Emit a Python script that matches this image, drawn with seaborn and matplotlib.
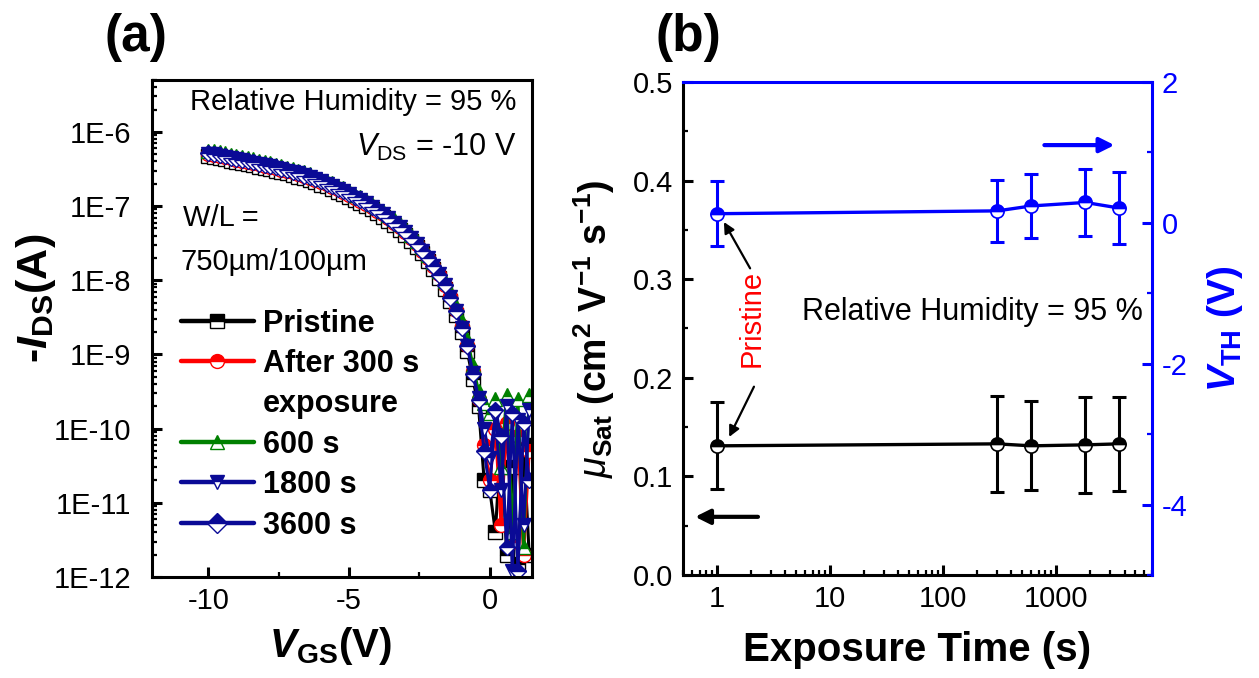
import numpy as np
import matplotlib
matplotlib.use("Agg")
import matplotlib.pyplot as plt
from matplotlib.lines import Line2D
from matplotlib.ticker import (LogLocator, FuncFormatter, MultipleLocator,
                               FixedLocator, NullFormatter, FormatStrFormatter)
import seaborn as sns

# ---------------- data ----------------
# gate-voltage sweep (V)
vgs = np.round(np.arange(-10.0, 1.41, 0.2), 1)

# drain current -I_DS (A) for each humidity exposure
ids_pristine = [
    4.7e-7, 4.6e-7, 4.4e-7, 4.3e-7, 4.1e-7, 3.95e-7, 3.85e-7, 3.7e-7, 3.6e-7, 3.4e-7,
    3.25e-7, 3.15e-7, 3.0e-7, 2.9e-7, 2.75e-7, 2.65e-7, 2.5e-7, 2.4e-7, 2.25e-7, 2.1e-7,
    1.95e-7, 1.85e-7, 1.7e-7, 1.55e-7, 1.45e-7, 1.33e-7, 1.2e-7, 1.1e-7, 1.0e-7, 9.0e-8,
    8.0e-8, 7.1e-8, 6.3e-8, 5.5e-8, 4.8e-8, 4.1e-8, 3.4e-8, 2.8e-8, 2.3e-8, 1.8e-8,
    1.4e-8, 1.08e-8, 7.7e-9, 5.3e-9, 3.4e-9, 2.0e-9, 1.1e-9, 4.6e-10,
    2.0e-10, 2.0e-11, 1.5e-11, 4e-12, 8e-11, 2e-12, 3e-11, 1.5e-12, 6e-11, 2e-12]
ids_300s = [
    5.0e-7, 4.9e-7, 4.7e-7, 4.6e-7, 4.4e-7, 4.2e-7, 4.1e-7, 3.9e-7, 3.8e-7, 3.65e-7,
    3.5e-7, 3.4e-7, 3.25e-7, 3.1e-7, 2.95e-7, 2.85e-7, 2.7e-7, 2.55e-7, 2.4e-7, 2.25e-7,
    2.1e-7, 1.97e-7, 1.83e-7, 1.68e-7, 1.57e-7, 1.43e-7, 1.29e-7, 1.18e-7, 1.08e-7, 9.7e-8,
    8.6e-8, 7.7e-8, 6.8e-8, 5.9e-8, 5.2e-8, 4.5e-8, 3.7e-8, 3.1e-8, 2.5e-8, 2.0e-8,
    1.57e-8, 1.2e-8, 8.7e-9, 6.1e-9, 4.0e-9, 2.4e-9, 1.35e-9, 6.0e-10,
    2.5e-10, 6e-11, 2e-11, 1e-10, 5e-12, 1.2e-10, 3e-12, 8e-11, 2e-12, 5e-11]
ids_600s = [
    5.6e-7, 5.5e-7, 5.3e-7, 5.2e-7, 4.9e-7, 4.7e-7, 4.6e-7, 4.4e-7, 4.3e-7, 4.1e-7,
    3.9e-7, 3.8e-7, 3.6e-7, 3.45e-7, 3.3e-7, 3.2e-7, 3.0e-7, 2.85e-7, 2.7e-7, 2.5e-7,
    2.35e-7, 2.2e-7, 2.05e-7, 1.87e-7, 1.76e-7, 1.6e-7, 1.43e-7, 1.32e-7, 1.21e-7, 1.08e-7,
    9.6e-8, 8.6e-8, 7.6e-8, 6.6e-8, 5.7e-8, 5.0e-8, 4.1e-8, 3.4e-8, 2.8e-8, 2.2e-8,
    1.75e-8, 1.35e-8, 9.8e-9, 6.9e-9, 4.5e-9, 2.8e-9, 1.6e-9, 7.2e-10,
    3.2e-10, 2.2e-10, 1.6e-10, 2.5e-10, 3e-11, 2.8e-10, 4e-12, 2.5e-10, 2.5e-12, 2.8e-10]
ids_1800s = [
    5.1e-7, 5.0e-7, 4.8e-7, 4.65e-7, 4.45e-7, 4.25e-7, 4.15e-7, 3.95e-7, 3.85e-7, 3.7e-7,
    3.55e-7, 3.45e-7, 3.3e-7, 3.15e-7, 3.0e-7, 2.9e-7, 2.75e-7, 2.6e-7, 2.45e-7, 2.3e-7,
    2.15e-7, 2.0e-7, 1.85e-7, 1.7e-7, 1.6e-7, 1.45e-7, 1.3e-7, 1.2e-7, 1.1e-7, 9.8e-8,
    8.7e-8, 7.8e-8, 6.9e-8, 6.0e-8, 5.2e-8, 4.5e-8, 3.7e-8, 3.1e-8, 2.5e-8, 2.0e-8,
    1.55e-8, 1.2e-8, 8.5e-9, 5.9e-9, 3.8e-9, 2.3e-9, 1.3e-9, 5.6e-10,
    2.6e-10, 1.0e-10, 4e-11, 1.5e-10, 1.5e-11, 2e-10, 1.2e-12, 1.3e-10, 5e-12, 1.8e-10]
ids_3600s = [
    5.2e-7, 5.05e-7, 4.85e-7, 4.7e-7, 4.5e-7, 4.3e-7, 4.2e-7, 4.0e-7, 3.9e-7, 3.72e-7,
    3.57e-7, 3.46e-7, 3.31e-7, 3.16e-7, 3.02e-7, 2.88e-7, 2.76e-7, 2.58e-7, 2.46e-7, 2.3e-7,
    2.15e-7, 2.0e-7, 1.86e-7, 1.71e-7, 1.59e-7, 1.45e-7, 1.32e-7, 1.21e-7, 1.1e-7, 9.8e-8,
    8.8e-8, 7.8e-8, 6.9e-8, 6.0e-8, 5.3e-8, 4.5e-8, 3.7e-8, 3.1e-8, 2.5e-8, 2.0e-8,
    1.56e-8, 1.18e-8, 8.6e-9, 5.8e-9, 3.8e-9, 2.3e-9, 1.3e-9, 5.5e-10,
    2.4e-10, 5e-11, 1.5e-11, 1.8e-10, 8e-11, 2.5e-12, 1.6e-10, 1.2e-12, 1.2e-10, 2e-11]

series_labels = ["Pristine", "After 300 s", "600 s", "1800 s", "3600 s"]

# exposure-time statistics
exposure_time = [1, 300, 600, 1800, 3600]
mobility = [0.131, 0.133, 0.131, 0.132, 0.133]
mobility_err = [0.044, 0.049, 0.045, 0.049, 0.048]
vth = [0.13, 0.17, 0.24, 0.29, 0.21]
vth_err = [0.46, 0.44, 0.46, 0.48, 0.51]

# ---------------- style ----------------
sns.set_style("ticks")
rc = {
    "font.family": ["Liberation Sans", "DejaVu Sans"],
    "mathtext.fontset": "custom",
    "mathtext.rm": "Liberation Sans",
    "mathtext.it": "Liberation Sans:italic",
    "mathtext.bf": "Liberation Sans:bold",
    "axes.unicode_minus": False,
    "axes.linewidth": 2.2,
    "text.color": "black",
    "axes.labelcolor": "black",
    "axes.edgecolor": "black",
    "xtick.color": "black",
    "ytick.color": "black",
}
if "mathtext.bfit" in plt.rcParams:
    rc["mathtext.bfit"] = "Liberation Sans:bold:italic"
plt.rcParams.update(rc)

W, H = 1259, 678
fig = plt.figure(figsize=(W / 100, H / 100), dpi=100)

def px_axes(left, top, right, bottom):
    return fig.add_axes([left / W, 1 - bottom / H, (right - left) / W, (bottom - top) / H])

ax_a = px_axes(152, 80, 532, 577)
ax_b = px_axes(683, 82, 1152, 575)

TICK = 21
NAVY = "#0A0A96"
BLUE = "#0000FF"

# ---------------- panel (a): transfer curves ----------------
ax_a.set_yscale("log")
styles = [
    (ids_pristine, "black", "s"),
    (ids_300s, "#FF0000", "o"),
    (ids_600s, "#008000", "^"),
    (ids_1800s, NAVY, "v"),
    (ids_3600s, NAVY, "D"),
]
handles = []
for (vals, col, mk), lab in zip(styles, series_labels):
    mk_size = 8.5 if mk == "D" else 10
    sns.lineplot(x=vgs, y=vals, ax=ax_a, color=col, marker=mk, markersize=mk_size,
                 fillstyle="top", markerfacecoloralt="white", markeredgecolor=col,
                 markeredgewidth=1.0, linewidth=2.2, estimator=None, sort=False,
                 legend=False)
    handles.append(Line2D([], [], color=col, marker=mk, markersize=10, fillstyle="top",
                          markerfacecoloralt="white", markeredgecolor=col,
                          markeredgewidth=1.0, linewidth=3.2))

ax_a.set_xlim(-12, 1.5)
ax_a.set_ylim(1e-12, 5e-6)
ax_a.xaxis.set_major_locator(FixedLocator([-10, -5, 0]))
ax_a.xaxis.set_minor_locator(FixedLocator([-7.5, -2.5]))
ax_a.yaxis.set_major_locator(LogLocator(base=10, numticks=20))
ax_a.yaxis.set_minor_locator(LogLocator(base=10, subs=np.arange(2, 10), numticks=20))
ax_a.yaxis.set_minor_formatter(NullFormatter())
ax_a.yaxis.set_major_formatter(FuncFormatter(lambda v, p: f"1E{int(np.round(np.log10(v)))}"))
ax_a.tick_params(which="major", direction="in", length=7, width=2.2, labelsize=TICK,
                 pad=7, top=False, right=False)
ax_a.tick_params(axis="y", which="major", pad=15)
ax_a.tick_params(which="minor", direction="in", length=3.5, width=1.6,
                 top=False, right=False)
for sp in ax_a.spines.values():
    sp.set_linewidth(2.2)
    sp.set_color("black")

ax_a.set_xlabel(r"$\mathbfit{V}_\mathbf{GS}$(V)", fontsize=29, fontweight="bold", va="center")
ax_a.xaxis.set_label_coords(0.47, -0.138)
ax_a.set_ylabel(r"-$\mathbfit{I}_\mathbf{DS}$(A)", fontsize=31, fontweight="bold", va="center")
ax_a.yaxis.set_label_coords(-0.305, 0.56)

ax_a.text(0.958, 0.956, "Relative Humidity = 95 %", transform=ax_a.transAxes,
          ha="right", va="center", fontsize=21)
ax_a.text(0.958, 0.865, r"$\mathit{V}_\mathrm{DS}$ = -10 V", transform=ax_a.transAxes,
          ha="right", va="center", fontsize=22)
ax_a.text(0.082, 0.722, "W/L =", transform=ax_a.transAxes, ha="left", va="center",
          fontsize=21)
ax_a.text(0.074, 0.634, "750\u00b5m/100\u00b5m", transform=ax_a.transAxes, ha="left",
          va="center", fontsize=21)

blank = Line2D([], [], linestyle="none", marker="none")
leg_handles = [handles[0], handles[1], blank, handles[2], handles[3], handles[4]]
leg_labels = ["Pristine", "After 300 s", "exposure", "600 s", "1800 s", "3600 s"]
ax_a.legend(leg_handles, leg_labels, loc="upper left", bbox_to_anchor=(0.075, 0.54),
            frameon=False, borderpad=0, borderaxespad=0, handlelength=2.4,
            handletextpad=0.3, labelspacing=0.34,
            prop={"weight": "bold", "size": 22})

fig.text(136 / W, 1 - 37 / H, "(a)", ha="center", va="center", fontsize=37,
         fontweight="bold")

# ---------------- panel (b): mobility and threshold voltage ----------------
ax_b.set_xscale("log")
ax_v = ax_b.twinx()

ax_b.errorbar(exposure_time, mobility, yerr=mobility_err, fmt="none", ecolor="black",
              elinewidth=2.2, capsize=5, capthick=2.2, zorder=2)
sns.lineplot(x=exposure_time, y=mobility, ax=ax_b, color="black", marker="o",
             markersize=9.5, fillstyle="top", markerfacecoloralt="white",
             markeredgecolor="black", markeredgewidth=1.2, linewidth=2.4,
             estimator=None, sort=False, legend=False, zorder=3)

ax_v.errorbar(exposure_time, vth, yerr=vth_err, fmt="none", ecolor=BLUE,
              elinewidth=2.2, capsize=5, capthick=2.2, zorder=2)
sns.lineplot(x=exposure_time, y=vth, ax=ax_v, color=BLUE, marker="o",
             markersize=9.5, fillstyle="top", markerfacecoloralt="white",
             markeredgecolor=BLUE, markeredgewidth=1.2, linewidth=2.4,
             estimator=None, sort=False, legend=False, zorder=3)

ax_b.set_xlim(0.5, 7000)
ax_b.set_ylim(0.0, 0.5)
ax_v.set_ylim(-5, 2)
ax_b.xaxis.set_major_locator(FixedLocator([1, 10, 100, 1000]))
ax_b.xaxis.set_major_formatter(FuncFormatter(lambda v, p: f"{int(v)}"))
ax_b.xaxis.set_minor_locator(LogLocator(base=10, subs=np.arange(2, 10), numticks=20))
ax_b.xaxis.set_minor_formatter(NullFormatter())
ax_b.yaxis.set_major_locator(MultipleLocator(0.1))
ax_b.yaxis.set_minor_locator(MultipleLocator(0.05))
ax_b.yaxis.set_major_formatter(FormatStrFormatter("%.1f"))
ax_v.yaxis.set_major_locator(MultipleLocator(2))
ax_v.yaxis.set_minor_locator(MultipleLocator(1))

ax_b.tick_params(which="major", direction="in", length=7, width=2.2, labelsize=TICK,
                 pad=7, top=False, right=False, colors="black")
ax_b.tick_params(which="minor", direction="in", length=3.5, width=1.6,
                 top=False, right=False, colors="black")
ax_v.tick_params(which="major", direction="in", length=7, width=2.2, labelsize=TICK,
                 pad=7, colors=BLUE)
ax_v.tick_params(which="minor", direction="in", length=3.5, width=1.6, colors=BLUE)

ax_b.spines["right"].set_visible(False)
ax_b.spines["top"].set_visible(False)
ax_b.spines["left"].set_color("black")
ax_b.spines["bottom"].set_color("black")
ax_v.spines["left"].set_visible(False)
ax_v.spines["bottom"].set_visible(False)
ax_v.spines["right"].set_color(BLUE)
ax_v.spines["top"].set_color(BLUE)
for sp in list(ax_b.spines.values()) + list(ax_v.spines.values()):
    sp.set_linewidth(2.2)

ax_b.set_xlabel("Exposure Time (s)", fontsize=29, fontweight="bold", va="center")
ax_b.xaxis.set_label_coords(0.5, -0.153)
ax_b.set_ylabel(r"$\mu_\mathbf{Sat}$ (cm$^\mathbf{2}$ V$^\mathbf{-1}$ s$^\mathbf{-1}$)",
                fontsize=27, fontweight="bold", va="center")
ax_b.yaxis.set_label_coords(-0.19, 0.5)
ax_v.set_ylabel(r"$\mathbfit{V}_\mathbf{TH}$ (V)", fontsize=28, fontweight="bold",
                color=BLUE, va="center", rotation=90)
ax_v.yaxis.set_label_coords(1.155, 0.5)

ax_b.text(0.981, 0.533, "Relative Humidity = 95 %", transform=ax_b.transAxes,
          ha="right", va="center", fontsize=22)
ax_b.text(2.04, 0.26, "Pristine", color="#FF0000", rotation=90, ha="center",
          va="center", fontsize=21)

arrow_thin = dict(arrowstyle="-|>", color="black", lw=1.6, mutation_scale=16,
                  shrinkA=0, shrinkB=0)
ax_b.annotate("", xy=(1.15, 0.358), xytext=(1.96, 0.311), arrowprops=arrow_thin)
ax_b.annotate("", xy=(1.28, 0.140), xytext=(2.12, 0.191), arrowprops=arrow_thin)

arrow_bold = dict(arrowstyle="-|>", lw=3.0, mutation_scale=22, shrinkA=0, shrinkB=0)
ax_b.annotate("", xy=(0.64, 0.059), xytext=(2.3, 0.059),
              arrowprops={**arrow_bold, "color": "black"})
ax_b.annotate("", xy=(3260, 0.436), xytext=(783, 0.436),
              arrowprops={**arrow_bold, "color": BLUE})

fig.text(688 / W, 1 - 37 / H, "(b)", ha="center", va="center", fontsize=37,
         fontweight="bold")

fig.savefig("out.png", dpi=100)
